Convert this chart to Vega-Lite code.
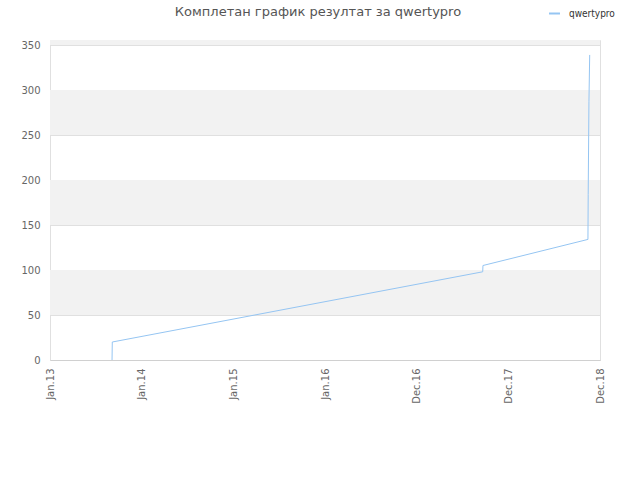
{
  "$schema": "https://vega.github.io/schema/vega-lite/v6.json",
  "autosize": "none",
  "width": 550,
  "height": 320,
  "padding": {"left": 50, "top": 40, "right": 40, "bottom": 120},
  "background": "white",
  "config": {
    "font": "DejaVu Sans",
    "view": {"stroke": "#e0e0e0", "strokeWidth": 1}
  },
  "title": {
    "text": "Комплетан график резултат за qwertypro",
    "font": "DejaVu Sans",
    "fontSize": 13,
    "fontWeight": "normal",
    "color": "#555555",
    "anchor": "middle",
    "dx": -7,
    "offset": -12
  },
  "datasets": {
    "bands": [
      {"lo": 50, "hi": 100},
      {"lo": 150, "hi": 200},
      {"lo": 250, "hi": 300},
      {"lo": 350, "hi": 355.6}
    ],
    "series": [
      {"date": "2013-09-05", "score": 0, "player": "qwertypro"},
      {"date": "2013-09-06", "score": 20, "player": "qwertypro"},
      {"date": "2017-09-20", "score": 98, "player": "qwertypro"},
      {"date": "2017-09-21", "score": 105, "player": "qwertypro"},
      {"date": "2018-11-13", "score": 134, "player": "qwertypro"},
      {"date": "2018-11-14", "score": 184, "player": "qwertypro"},
      {"date": "2018-11-17", "score": 287, "player": "qwertypro"},
      {"date": "2018-11-20", "score": 339, "player": "qwertypro"}
    ]
  },
  "layer": [
    {
      "data": {"name": "bands"},
      "mark": {"type": "rect", "color": "#f2f2f2"},
      "encoding": {
        "y": {
          "field": "lo",
          "type": "quantitative",
          "scale": {"domain": [0, 355.6], "nice": false, "zero": true},
          "axis": {
            "title": null,
            "values": [0, 50, 100, 150, 200, 250, 300, 350],
            "labelFontSize": 10,
            "labelColor": "#666666",
            "labelFont": "DejaVu Sans",
            "labelPadding": 10,
            "ticks": false,
            "domain": false,
            "grid": true,
            "gridColor": "#e0e0e0"
          }
        },
        "y2": {"field": "hi"}
      }
    },
    {
      "data": {"name": "series"},
      "mark": {"type": "line", "strokeWidth": 1, "clip": true},
      "encoding": {
        "x": {
          "field": "date",
          "type": "temporal",
          "scale": {"domain": [{"year": 2013, "month": 1, "date": 1}, {"year": 2018, "month": 12, "date": 31}], "nice": false},
          "axis": {
            "title": null,
            "values": [
              {"year": 2013, "month": 1, "date": 1},
              {"year": 2014, "month": 1, "date": 1},
              {"year": 2015, "month": 1, "date": 1},
              {"year": 2016, "month": 1, "date": 1},
              {"year": 2016, "month": 12, "date": 31},
              {"year": 2017, "month": 12, "date": 31},
              {"year": 2018, "month": 12, "date": 31}
            ],
            "format": "%b.%y",
            "labelAngle": -90,
            "labelAlign": "right",
            "labelBaseline": "middle",
            "labelPadding": 8,
            "labelFontSize": 10,
            "labelColor": "#666666",
            "labelFont": "DejaVu Sans",
            "labelOverlap": false,
            "labelBound": false,
            "labelFlush": false,
            "ticks": false,
            "grid": false,
            "domainColor": "#d0d0d0"
          }
        },
        "y": {
          "field": "score",
          "type": "quantitative",
          "scale": {"domain": [0, 355.6], "nice": false, "zero": true}
        },
        "color": {
          "field": "player",
          "type": "nominal",
          "scale": {"range": ["#95c5f2"]},
          "legend": {
            "title": null,
            "orient": "none",
            "legendX": 498,
            "legendY": -33,
            "symbolType": "stroke",
            "symbolSize": 120,
            "symbolStrokeWidth": 2,
            "labelFont": "DejaVu Sans Condensed, Liberation Sans, sans-serif",
            "labelFontSize": 10,
            "labelColor": "#333333",
            "labelOffset": 8
          }
        }
      }
    }
  ]
}
